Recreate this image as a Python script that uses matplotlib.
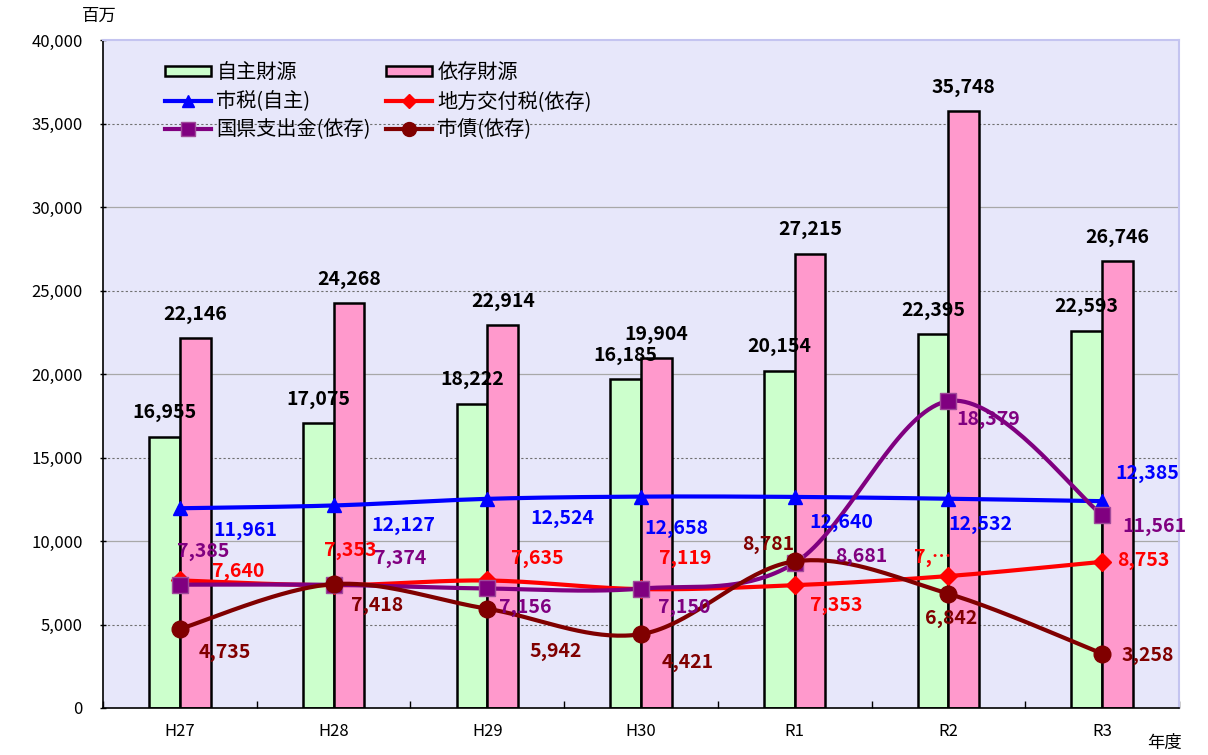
import numpy as np
import matplotlib
matplotlib.use('Agg')
import matplotlib.pyplot as plt
from matplotlib.patches import Patch
from matplotlib.lines import Line2D

plt.rcParams['font.family'] = ['Noto Sans CJK JP', 'DejaVu Sans']

# data
years = ['H27', 'H28', 'H29', 'H30', 'R1', 'R2', 'R3']
own_bar = [16250, 17060, 18230, 19680, 20180, 22390, 22580]      # 自主財源 (bar height as drawn)
dep_bar = [22150, 24250, 22920, 20950, 27215, 35748, 26760]      # 依存財源 (bar height as drawn)
own_lbl = ['16,955', '17,075', '18,222', '16,185', '20,154', '22,395', '22,593']
dep_lbl = ['22,146', '24,268', '22,914', '19,904', '27,215', '35,748', '26,746']
city_tax = [11961, 12127, 12524, 12658, 12640, 12532, 12385]     # 市税(自主)
local_alloc = [7640, 7353, 7635, 7119, 7353, 7900, 8753]         # 地方交付税(依存)
subsidy = [7385, 7374, 7156, 7150, 8681, 18379, 11561]           # 国県支出金(依存)
bonds = [4735, 7418, 5942, 4421, 8781, 6842, 3258]               # 市債(依存)
local_alloc_lbl = ['7,640', '7,353', '7,635', '7,119', '7,353', '7,…', '8,753']

# label offsets in pixels (dx right, dy down) from each marker
off_tax = [(66, 22), (70, 20), (75, 20), (35, 32), (47, 26), (32, 26), (45, -28)]
off_alloc = [(58, -9), (17, -35), (50, -22), (44, -31), (42, 20), (-16, -19), (41, -1)]
off_sub = [(23, -33), (67, -26), (38, 19), (43, 19), (67, -7), (40, 18), (52, 12)]
off_bond = [(45, 24), (43, 21), (68, 43), (47, 28), (-27, -17), (3, 25), (46, 2)]


def smooth(xs, ys, n=40):
    # Excel-style smoothed line (Catmull-Rom bezier)
    p = np.column_stack([xs, ys]).astype(float)
    out = []
    for i in range(len(p) - 1):
        p0 = p[i - 1] if i > 0 else p[i]
        p1, p2 = p[i], p[i + 1]
        p3 = p[i + 2] if i + 2 < len(p) else p[i + 1]
        c1 = p1 + (p2 - p0) / 6
        c2 = p2 - (p3 - p1) / 6
        t = np.linspace(0, 1, n)[:, None]
        seg = (1 - t)**3 * p1 + 3 * (1 - t)**2 * t * c1 + 3 * (1 - t) * t**2 * c2 + t**3 * p2
        out.append(seg if i == 0 else seg[1:])
    return np.vstack(out)


fig = plt.figure(figsize=(12.08, 7.55), dpi=100)
ax = fig.add_axes([103 / 1208, 1 - 708 / 755, 1076 / 1208, 668 / 755])
ax.set_facecolor('#e7e7fa')

x = np.arange(len(years))
w = 0.2

# grid
for g in range(5000, 40000, 5000):
    if g % 10000 == 0:
        ax.axhline(g, color='#a8a8a8', lw=0.9, zorder=0.5)
    else:
        ax.axhline(g, color='#707070', lw=0.8, ls=(0, (2, 2)), zorder=0.5)

ax.bar(x - w / 2, own_bar, w, color='#ccffcc', edgecolor='black', linewidth=1.8, zorder=2)
ax.bar(x + w / 2, dep_bar, w, color='#ff99cc', edgecolor='black', linewidth=1.8, zorder=2)

for i in range(len(years)):
    ax.annotate(own_lbl[i], (x[i] - w / 2, own_bar[i]), xytext=(0, 24), textcoords='offset pixels',
                ha='center', va='center', fontsize=14, fontweight='bold', color='black', zorder=6)
    ax.annotate(dep_lbl[i], (x[i] + w / 2, dep_bar[i]), xytext=(0, 24), textcoords='offset pixels',
                ha='center', va='center', fontsize=14, fontweight='bold', color='black', zorder=6)

series = [
    (city_tax, '#0000ff', '^', 10, '#0000ff', off_tax, None),
    (local_alloc, '#ff0000', 'D', 9, '#ff0000', off_alloc, local_alloc_lbl),
    (subsidy, '#800080', 's', 11, '#a04a9a', off_sub, None),
    (bonds, '#800000', 'o', 12, '#800000', off_bond, None),
]
for k, (vals, col, mk, ms, mec, offs, lbls) in enumerate(series):
    curve = smooth(x, vals)
    ax.plot(curve[:, 0], curve[:, 1], color=col, lw=3, zorder=3 + k * 0.1)
    ax.plot(x, vals, ls='none', marker=mk, ms=ms, color=col, mec=mec, mew=1, zorder=3.05 + k * 0.1)
    for i, v in enumerate(vals):
        txt = lbls[i] if lbls else f'{v:,}'
        ax.annotate(txt, (x[i], v), xytext=(offs[i][0], -offs[i][1]), textcoords='offset pixels',
                    ha='center', va='center', fontsize=14, fontweight='bold', color=col, zorder=6)

ax.set_xlim(-0.5, 6.5)
ax.set_ylim(0, 40000)
ax.set_yticks(range(0, 40001, 5000))
ax.set_yticklabels([f'{v:,}' for v in range(0, 40001, 5000)], fontsize=12)
ax.set_xticks(x)
ax.set_xticklabels(years, fontsize=12)
ax.set_xticks(np.arange(-0.5, 7, 1), minor=True)
ax.tick_params(axis='x', which='major', length=0, pad=11)
ax.tick_params(axis='x', which='minor', direction='in', length=5, width=1)
ax.tick_params(axis='y', direction='inout', length=5, width=1, pad=12)
for s in ['left', 'bottom']:
    ax.spines[s].set_linewidth(1.2)
for s in ['top', 'right']:
    ax.spines[s].set_color('#c4c4f0')
    ax.spines[s].set_linewidth(1.5)

handles = [
    Patch(facecolor='#ccffcc', edgecolor='black', linewidth=1.8),
    Line2D([], [], color='#0000ff', lw=3, marker='^', ms=9),
    Line2D([], [], color='#800080', lw=3, marker='s', ms=10, mec='#a04a9a'),
    Patch(facecolor='#ff99cc', edgecolor='black', linewidth=1.8),
    Line2D([], [], color='#ff0000', lw=3, marker='D', ms=7),
    Line2D([], [], color='#800000', lw=3, marker='o', ms=10),
]
names = ['自主財源', '市税(自主)', '国県支出金(依存)', '依存財源', '地方交付税(依存)', '市債(依存)']
ax.legend(handles, names, ncol=2, loc='upper left', bbox_to_anchor=(0.0576, 0.967),
          frameon=False, fontsize=14.5, handlelength=2.3, handleheight=0.4, handletextpad=0.25,
          columnspacing=0.75, labelspacing=0.38, borderpad=0, borderaxespad=0)

fig.text(99 / 1208, 1 - 16 / 755, '百万', ha='center', va='center', fontsize=12.5)
fig.text(1165 / 1208, 1 - 743 / 755, '年度', ha='center', va='center', fontsize=12.5)

fig.savefig('out.png', dpi=100)
